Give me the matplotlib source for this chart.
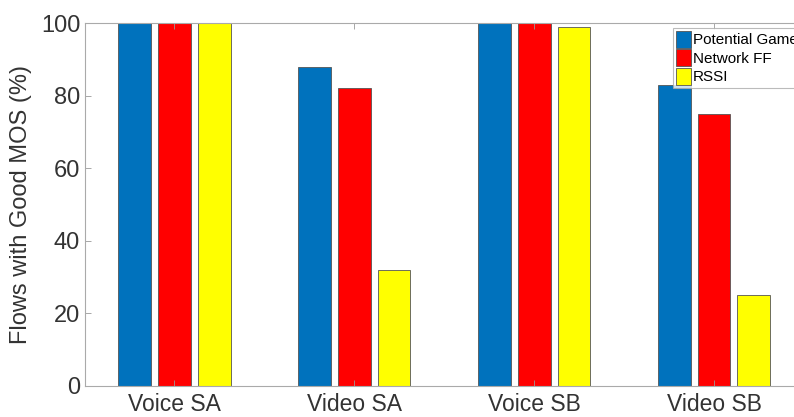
import numpy as np
import matplotlib.pyplot as plt

plt.rcParams['font.family'] = ['Liberation Sans', 'DejaVu Sans']

categories = ['Voice SA', 'Video SA', 'Voice SB', 'Video SB']
potential_game = [100, 88, 100, 83]
network_ff = [100, 82, 100, 75]
rssi = [100, 32, 99, 25]
series_names = ['Potential Game', 'Network FF', 'RSSI']
colors = ['#0072BD', '#FF0000', '#FFFF00']

fig = plt.figure(figsize=(7.94, 4.17), dpi=100)
# axes deliberately runs past the right edge, like the cropped original
ax = fig.add_axes([85/794, 31/417, 719/794, 363/417])

x = np.arange(1, len(categories) + 1)
w = 0.183
offs = [-0.222, 0, 0.222]
for vals, off, c, name in zip([potential_game, network_ff, rssi], offs, colors, series_names):
    ax.bar(x + off, vals, w, color=c, edgecolor='#555555', linewidth=0.6, label=name)

ax.set_xlim(0.505, 4.5)
ax.set_ylim(0, 100)
ax.set_xticks(x)
ax.set_xticklabels(categories, fontsize=16.5)
ax.set_yticks([0, 20, 40, 60, 80, 100])
ax.set_ylabel('Flows with Good MOS (%)', fontsize=17, color='#333333', labelpad=6)
ax.tick_params(axis='both', direction='in', length=4, width=0.6, color='#999999',
               labelcolor='#333333', top=True, right=True)
ax.tick_params(axis='y', labelsize=17)
ax.tick_params(axis='x', pad=5)
for s in ax.spines.values():
    s.set_color('#aaaaaa')
    s.set_linewidth(0.8)

leg = ax.legend(loc='upper left', bbox_to_anchor=(0.818, 0.987), fontsize=11,
                frameon=True, fancybox=False, handlelength=0.95, handleheight=1.35,
                handletextpad=0.15, borderpad=0.2, labelspacing=0.08, borderaxespad=0)
leg.get_frame().set_edgecolor('#aaaaaa')
leg.get_frame().set_linewidth(0.8)

fig.savefig('out.png', dpi=100)
